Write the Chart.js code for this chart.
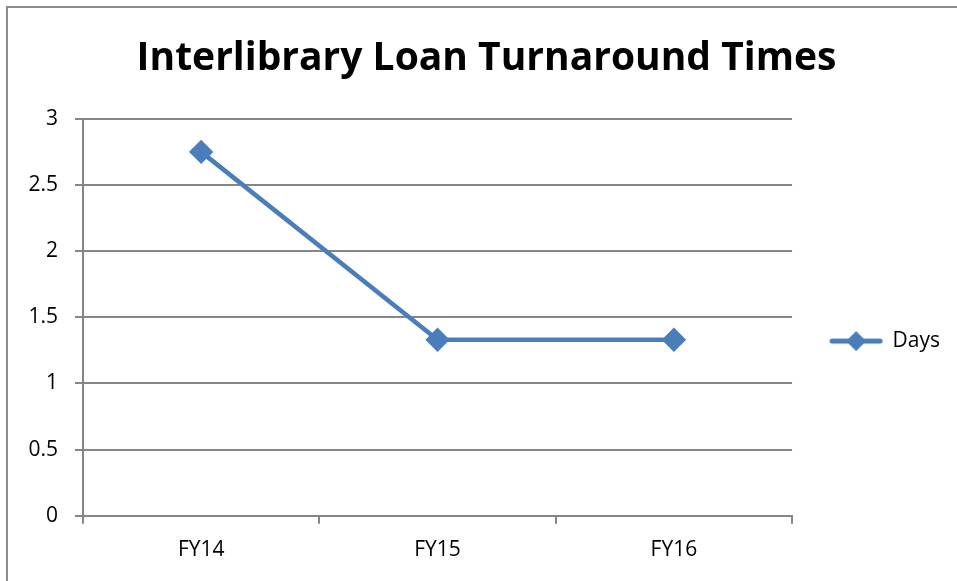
<!DOCTYPE html>
<html>
<head>
<meta charset="utf-8">
<script src="https://cdn.jsdelivr.net/npm/chart.js@4/dist/chart.umd.min.js"></script>
<style>
  html, body { margin: 0; padding: 0; background: #fff; }
  #wrap { position: relative; width: 957px; height: 581px; }
  #frame {
    position: absolute; left: 6px; top: 6px; right: 0; bottom: 0;
    border-left: 2px solid #8c8c8c; border-top: 2px solid #8c8c8c;
    pointer-events: none;
  }
  canvas { position: absolute; left: 0; top: 0; }
</style>
</head>
<body>
<div id="wrap">
  <div id="frame"></div>
  <canvas id="illChart" width="957" height="581"></canvas>
</div>
<script>
// chart data
const years = ['FY14', 'FY15', 'FY16'];
const days = [2.75, 1.33, 1.33];
const yTicks = [0, 0.5, 1, 1.5, 2, 2.5, 3];

const blue = '#4a7ebb';
const gridGray = '#868686';
const tickFont = { family: '"Open Sans", sans-serif', size: 21 };

// legend icon: line with a diamond in the middle (Excel style)
function legendIcon() {
    const c = document.createElement('canvas');
    c.width = 54; c.height = 22;
    const g = c.getContext('2d');
    g.strokeStyle = blue;
    g.lineWidth = 5;
    g.lineCap = 'round';
    g.beginPath();
    g.moveTo(3, 11); g.lineTo(51, 11);
    g.stroke();
    g.fillStyle = blue;
    g.beginPath();
    g.moveTo(27, 1); g.lineTo(37, 11); g.lineTo(27, 21); g.lineTo(17, 11);
    g.closePath();
    g.fill();
    return c;
}
const icon = legendIcon();

new Chart(document.getElementById('illChart'), {
    type: 'line',
    data: {
        labels: years,
        datasets: [{
            label: 'Days',
            data: days,
            borderColor: blue,
            backgroundColor: blue,
            borderWidth: 4.5,
            pointStyle: 'rectRot',
            pointRadius: 9,
            pointHoverRadius: 9,
            pointBackgroundColor: blue,
            pointBorderColor: blue,
            tension: 0
        }]
    },
    options: {
        responsive: false,
        animation: false,
        layout: { padding: { left: 23, right: 7, top: 0, bottom: 4 } },
        plugins: {
            title: {
                display: true,
                text: 'Interlibrary Loan Turnaround Times',
                color: '#000',
                font: { family: '"Open Sans", sans-serif', size: 39, weight: 'bold' },
                padding: { top: 35, bottom: 37 }
            },
            legend: {
                position: 'right',
                // empty legend title only pushes the entry down to the Excel position
                title: { display: true, text: ' ', font: { size: 1 }, padding: { top: 52, bottom: 52 } },
                labels: {
                    usePointStyle: true,
                    pointStyleWidth: 52,
                    padding: 38,
                    color: '#000',
                    font: tickFont,
                    generateLabels: (chart) => chart.data.datasets.map((ds, i) => ({
                        text: ds.label,
                        fontColor: '#000',
                        pointStyle: icon,
                        fillStyle: blue,
                        strokeStyle: blue,
                        lineWidth: 0,
                        hidden: false,
                        datasetIndex: i
                    }))
                }
            },
            tooltip: { enabled: false }
        },
        scales: {
            x: {
                offset: true,
                grid: {
                    offset: true,
                    drawOnChartArea: false,
                    drawTicks: true,
                    tickLength: 8,
                    color: gridGray,
                    lineWidth: 2
                },
                border: { color: gridGray, width: 2 },
                ticks: { color: '#000', font: tickFont, padding: 14 }
            },
            y: {
                min: 0,
                max: 3,
                afterFit: (scale) => { scale.width = 60; },
                afterBuildTicks: (scale) => { scale.ticks = yTicks.map(v => ({ value: v })); },
                grid: {
                    color: gridGray,
                    lineWidth: 2,
                    tickLength: 8
                },
                border: { color: gridGray, width: 2 },
                ticks: {
                    color: '#000',
                    font: tickFont,
                    padding: 17,
                    callback: (v) => String(v)
                }
            }
        }
    }
});
</script>
</body>
</html>
